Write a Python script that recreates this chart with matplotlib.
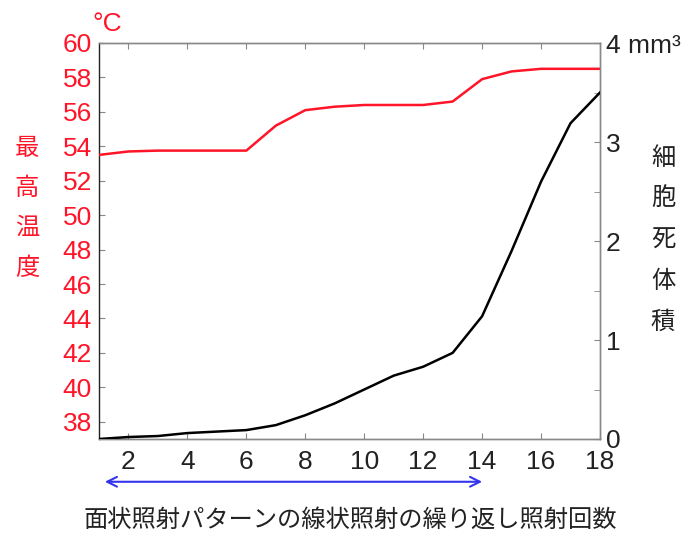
import matplotlib
matplotlib.use("Agg")
import matplotlib.pyplot as plt
from matplotlib.transforms import blended_transform_factory

# ---- data ----
counts = list(range(1, 19))
max_temp = [53.5, 53.7, 53.75, 53.75, 53.75, 53.75, 55.2, 56.1, 56.3, 56.4,
            56.4, 56.4, 56.6, 57.9, 58.35, 58.5, 58.5, 58.5]
dead_volume = [0.0, 0.02, 0.03, 0.06, 0.075, 0.09, 0.14, 0.24, 0.36, 0.50,
               0.64, 0.73, 0.87, 1.24, 1.90, 2.60, 3.19, 3.50]
x_ticks = [2, 4, 6, 8, 10, 12, 14, 16, 18]
left_ticks = [38, 40, 42, 44, 46, 48, 50, 52, 54, 56, 58, 60]
right_ticks = [0, 1, 2, 3, 4]
right_tick_labels = ["0", "1", "2", "3", "4 mm³"]
right_minor = [0.5, 1.5, 2.5, 3.5]
arrow_span = [1.2, 14.0]
xlabel = "面状照射パターンの線状照射の繰り返し照射回数"
left_label = "最高温度"
right_label = "細胞死体積"

RED = "#ff1428"
NUM = ["Liberation Sans", "DejaVu Sans"]
JP = ["Noto Sans CJK JP", "DejaVu Sans"]
FS = 19
FSJ = 17.5

fig = plt.figure(figsize=(6.92, 5.33), dpi=100)
ax = fig.add_axes([99/692, 1-439/533, (600-99)/692, (439-43)/533])
ax2 = ax.twinx()

ax.plot(counts, max_temp, color=RED, lw=1.8, zorder=3)
ax2.plot(counts, dead_volume, color="black", lw=1.8, zorder=3)

ax.set_xlim(1, 18)
ax.set_ylim(37, 60)
ax2.set_ylim(0, 4)

ax.set_xticks(x_ticks)
ax.set_xticklabels([str(v) for v in x_ticks], fontsize=FS, family=NUM, color="#222222")
ax.set_yticks(left_ticks)
ax.set_yticklabels([str(v) for v in left_ticks], fontsize=FS, family=NUM, color=RED)
ax2.set_yticks(right_ticks)
ax2.set_yticklabels(right_tick_labels, fontsize=FS, family=NUM, color="#222222")
ax2.set_yticks(right_minor, minor=True)

ax.tick_params(axis="x", direction="in", top=True, length=4, color="#888888", pad=8)
ax.tick_params(axis="y", direction="in", length=4, color="#888888", pad=5, right=False)
ax2.tick_params(axis="y", which="both", direction="in", length=4, color="#888888", pad=4)

for s in ["top", "bottom", "right"]:
    ax.spines[s].set_color("#888888")
    ax2.spines[s].set_color("#888888")
ax.spines["left"].set_color("#222222")
ax2.spines["left"].set_visible(False)
for a in (ax, ax2):
    for s in a.spines.values():
        s.set_linewidth(1.0)

# vertical stacked axis labels
for i, ch in enumerate(left_label):
    fig.text(27/692, 1-(148+40*i)/533, ch, color=RED, fontsize=FSJ, family=JP,
             ha="center", va="center")
for i, ch in enumerate(right_label):
    fig.text(663/692, 1-(158+41*i)/533, ch, color="#222222", fontsize=FSJ, family=JP,
             ha="center", va="center")

# degree label
fig.text(107/692, 1-24/533, "°C", color=RED, fontsize=FS, family=NUM,
         ha="center", va="center")

# x label
fig.text(350/692, 1-520/533, xlabel, color="#222222", fontsize=FSJ, family=JP,
         ha="center", va="center")

# blue double arrow under the axis
tr = blended_transform_factory(ax.transData, ax.transAxes)
ax.annotate("", xy=(arrow_span[1], -0.108), xytext=(arrow_span[0], -0.108),
            xycoords=tr, textcoords=tr, annotation_clip=False,
            arrowprops=dict(arrowstyle="<->,head_length=0.7,head_width=0.35",
                            color="#3333ee", lw=1.5, shrinkA=0, shrinkB=0))

fig.savefig("out.png", dpi=100)
